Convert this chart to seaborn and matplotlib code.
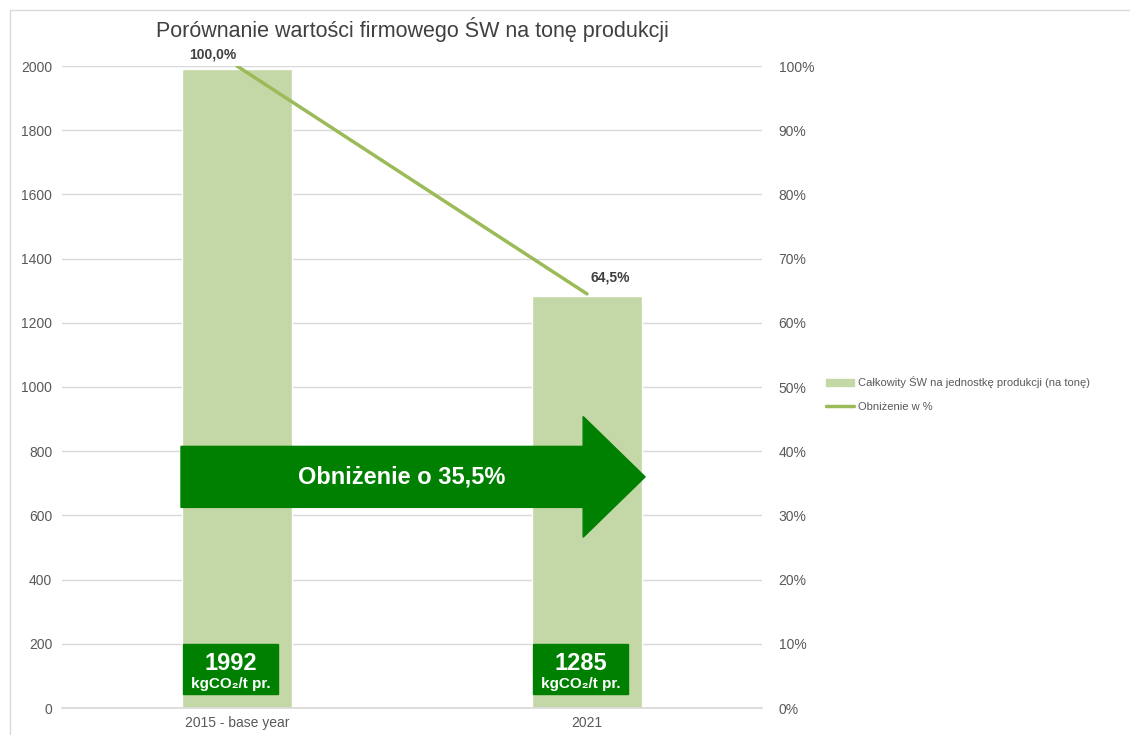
import numpy as np
import pandas as pd
import seaborn as sns
import matplotlib.pyplot as plt
from matplotlib.patches import Rectangle, FancyArrow
from matplotlib.lines import Line2D
from matplotlib.ticker import FuncFormatter

# data
years = ['2015 - base year', '2021']
emission = [1992, 1285]          # kgCO2/t
reduction_pct = [100.0, 64.5]    # %

df = pd.DataFrame({'Rok': years, 'SW': emission})

sns.set_theme(style='white')
plt.rcParams['font.family'] = ['Liberation Sans', 'DejaVu Sans']

bar_col = '#c4d7a6'
line_col = '#9bbb59'
dark_green = '#008000'
txt_col = '#595959'

fig = plt.figure(figsize=(11.3, 7.35), dpi=100)
# light frame around the chart like in Excel
fig.patches.append(Rectangle((10 / 1130, -0.01), 1.2, 1 - 10 / 735 + 0.01,
                             transform=fig.transFigure, fill=False,
                             edgecolor='#d9d9d9', lw=1))

ax = fig.add_axes([62 / 1130, 1 - 708 / 735, 700 / 1130, 642 / 735])
sns.barplot(data=df, x='Rok', y='SW', color=bar_col, width=0.315,
            saturation=1, ax=ax, zorder=2)
ax.set_xlim(-0.5, 1.5)
ax.set_ylim(0, 2000)
ax.set_yticks(np.arange(0, 2001, 200))
ax.set_xlabel('')
ax.set_ylabel('')
ax.grid(axis='y', color='#d9d9d9', lw=1, zorder=0)
ax.set_axisbelow(True)
for s in ['left', 'right', 'top']:
    ax.spines[s].set_visible(False)
ax.spines['bottom'].set_color('#d9d9d9')
ax.tick_params(axis='both', length=0, labelsize=10, labelcolor=txt_col, pad=7)
ax.tick_params(axis='x', pad=6)

ax2 = ax.twinx()
ax2.plot(range(len(years)), reduction_pct, color=line_col, lw=2.5, zorder=3)
ax2.set_ylim(0, 100)
ax2.set_yticks(np.arange(0, 101, 10))
ax2.yaxis.set_major_formatter(FuncFormatter(lambda v, p: f'{v:.0f}%'))
for s in ['left', 'right', 'top', 'bottom']:
    ax2.spines[s].set_visible(False)
ax2.tick_params(axis='y', length=0, labelsize=10, labelcolor=txt_col, pad=12)
ax2.grid(False)

# line data labels
offsets = [(-24, 5), (23, 9)]
for i, v in enumerate(reduction_pct):
    ax2.annotate(f'{v:.1f}%'.replace('.', ','), (i, v), xytext=offsets[i],
                 textcoords='offset pixels', ha='center',
                 va='bottom', fontsize=10, fontweight='bold', color='#404040')

# big arrow
ax.add_patch(FancyArrow(-0.16, 720, 1.326, 0, width=190, head_width=376,
                        head_length=0.177, length_includes_head=True,
                        color=dark_green, zorder=4))
ax.text(0.47, 720, 'Obniżenie o 35,5%', ha='center', va='center',
        color='white', fontsize=17, fontweight='bold', zorder=5)

# value boxes at bottom of bars
for i, v in enumerate(emission):
    ax.add_patch(Rectangle((i - 0.155, 43), 0.272, 157, color=dark_green, zorder=4))
    ax.text(i - 0.019, 140, str(v), ha='center', va='center', color='white',
            fontsize=17, fontweight='bold', zorder=5)
    ax.text(i - 0.019, 74, 'kgCO₂/t pr.', ha='center', va='center', color='white',
            fontsize=11, fontweight='bold', zorder=5)

fig.text(412 / 1130, 1 - 30 / 735, 'Porównanie wartości firmowego ŚW na tonę produkcji',
         ha='center', va='center', fontsize=15.5, color='#404040')

handles = [Rectangle((0, 0), 1, 1, color=bar_col),
           Line2D([], [], color=line_col, lw=2.5)]
fig.legend(handles, ['Całkowity ŚW na jednostkę produkcji (na tonę)', 'Obniżenie w %'],
           loc='upper left', bbox_to_anchor=(822 / 1130, 1 - 372 / 735),
           frameon=False, fontsize=8, labelcolor=txt_col, handlelength=2.5,
           handletextpad=0.3, labelspacing=1.2, borderaxespad=0)

fig.savefig('out.png', dpi=100)
